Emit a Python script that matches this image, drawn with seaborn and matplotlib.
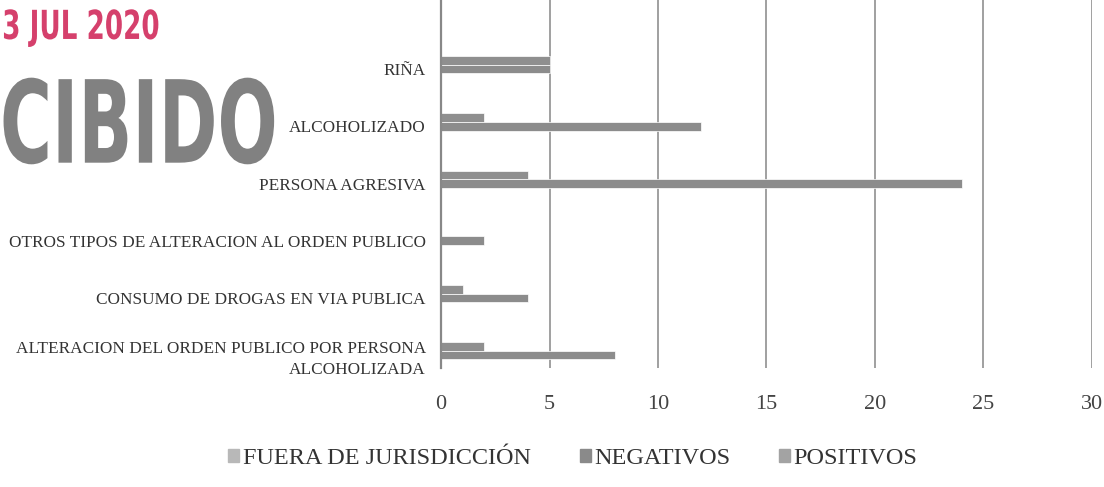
import matplotlib
matplotlib.use("Agg")
import matplotlib.pyplot as plt
import matplotlib.patheffects as pe
from matplotlib.transforms import Affine2D
import seaborn as sns
import pandas as pd

categories = [
    "RIÑA",
    "ALCOHOLIZADO",
    "PERSONA AGRESIVA",
    "OTROS TIPOS DE ALTERACION AL ORDEN PUBLICO",
    "CONSUMO DE DROGAS EN VIA PUBLICA",
    "ALTERACION DEL ORDEN PUBLICO POR PERSONA\nALCOHOLIZADA",
]
fuera = [0, 0, 0, 0, 0, 0]
negativos = [5, 12, 24, 2, 4, 8]
positivos = [5, 2, 4, 0, 1, 2]
series_names = ["FUERA DE JURISDICCIÓN", "NEGATIVOS", "POSITIVOS"]
x_ticks = [0, 5, 10, 15, 20, 25, 30]

rows = []
for name, vals in zip(series_names, [fuera, negativos, positivos]):
    for c, v in zip(categories, vals):
        rows.append({"cat": c, "serie": name, "val": v})
df = pd.DataFrame(rows)

W, H = 1104, 487
sns.set_style("white")
fig = plt.figure(figsize=(W / 100, H / 100), dpi=100)
fig.patch.set_facecolor("white")
ax = fig.add_axes([0.3995, 0.244, 0.5895, 0.756])

palette = {"FUERA DE JURISDICCIÓN": "#b8b8b8", "NEGATIVOS": "#8a8a8a", "POSITIVOS": "#a3a3a3"}
bar_palette = {"FUERA DE JURISDICCIÓN": "#b8b8b8", "NEGATIVOS": "#8c8c8c", "POSITIVOS": "#8f8f8f"}
sns.barplot(data=df, y="cat", x="val", hue="serie", order=categories,
            hue_order=["POSITIVOS", "NEGATIVOS", "FUERA DE JURISDICCIÓN"],
            palette=bar_palette, width=0.45, gap=0, orient="h", ax=ax,
            saturation=1, edgecolor="white", linewidth=0.5, errorbar=None)

ax.set_xlim(0, 30)
ax.set_ylim(5.23, -1.21)
ax.set_xticks(x_ticks)
ax.set_xticklabels([str(t) for t in x_ticks], fontfamily="Liberation Serif", fontsize=16,
                   color="#444444")
ax.set_yticks(range(len(categories)))
ax.set_yticklabels(categories, fontfamily="Liberation Serif", fontsize=12.4, color="#333333",
                   linespacing=1.45)
ax.tick_params(axis="both", length=0)
ax.tick_params(axis="x", pad=19)
ax.tick_params(axis="y", pad=11)
ax.grid(axis="x", color="#a0a0a0", linewidth=1.4)
ax.set_axisbelow(True)
for s in ["top", "right", "bottom"]:
    ax.spines[s].set_visible(False)
ax.spines["left"].set_color("#888888")
ax.spines["left"].set_linewidth(1.6)
ax.set_xlabel("")
ax.set_ylabel("")

ax.get_legend().remove()
leg_handles = [plt.Rectangle((0, 0), 1, 1, color=palette[n]) for n in series_names]
fig.legend(leg_handles, series_names, loc="center", bbox_to_anchor=(0.519, 0.058), ncol=3,
           frameon=False, handlelength=0.45, handleheight=0.45, handletextpad=0.15,
           columnspacing=2.0, prop={"family": "Liberation Serif", "size": 17.5},
           labelcolor="#333333")


class Stretch(pe.AbstractPathEffect):
    """Scale glyphs about an anchor (display px) to mimic a condensed stamp face."""

    def __init__(self, sx, sy, x0, y0):
        super().__init__()
        self.sx, self.sy, self.x0, self.y0 = sx, sy, x0, y0

    def draw_path(self, renderer, gc, tpath, affine, rgbFace=None):
        t = affine + Affine2D().translate(-self.x0, -self.y0).scale(self.sx, self.sy) \
            .translate(self.x0, self.y0)
        renderer.draw_path(gc, tpath, t, rgbFace)


# scanned reception stamp
x1, y1 = 0.002, 0.943
fig.text(x1, y1, "3 JUL 2020", color="#d2305f", fontsize=18, fontweight="bold",
         fontfamily="DejaVu Sans", va="center", ha="left", alpha=0.92,
         path_effects=[Stretch(1.05, 1.6, x1 * W, y1 * H)])
x2, y2 = 0.0, 0.732
fig.text(x2, y2, "CIBIDO", color="#505050", fontsize=50, fontweight="bold",
         fontfamily="DejaVu Sans", va="center", ha="left", alpha=0.72,
         path_effects=[Stretch(1.02, 1.65, x2 * W, y2 * H)])

fig.savefig("out.png", dpi=100, facecolor="white")
